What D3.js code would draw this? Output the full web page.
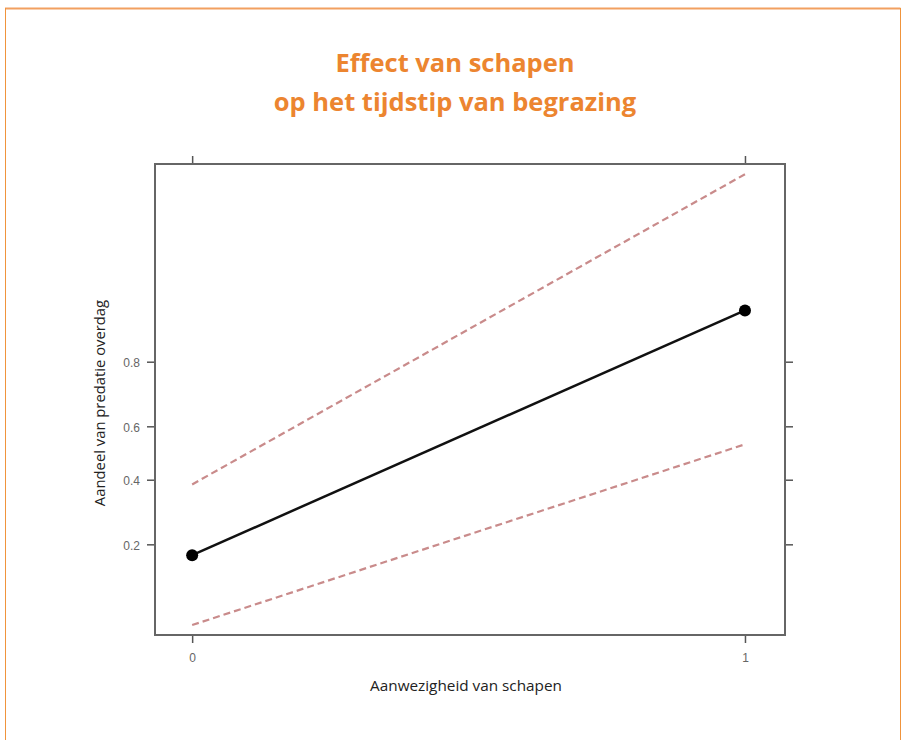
<!DOCTYPE html>
<html><head><meta charset="utf-8">
<script src="https://cdn.jsdelivr.net/npm/d3@7"></script>
<style>body{margin:0;background:#fff}svg{display:block}</style>
</head><body>
<svg id="c" width="907" height="740"></svg>
<script>
const titleLines = ["Effect van schapen", "op het tijdstip van begrazing"];
const xCategories = [0, 1];
const xTickLabels = ["0", "1"];
const fitValues = [0.175, 0.897];
const upperValues = [0.383, 0.9857];
const lowerValues = [0.0684, 0.533];
const yTickValues = [0.2, 0.4, 0.6, 0.8];
const yTickLabels = ["0.2", "0.4", "0.6", "0.8"];
const xLabel = "Aanwezigheid van schapen";
const yLabel = "Aandeel van predatie overdag";

const svg = d3.select("#c");
const logit = p => Math.log(p / (1 - p));

// frame
svg.append("line").attr("x1",5).attr("x2",900.5).attr("y1",8.5).attr("y2",8.5).attr("stroke","#F2A060").attr("stroke-width",2);
svg.append("line").attr("x1",5.5).attr("x2",5.5).attr("y1",8).attr("y2",740).attr("stroke","#F0943C").attr("stroke-width",1);
svg.append("line").attr("x1",900.5).attr("x2",900.5).attr("y1",8).attr("y2",740).attr("stroke","#F0943C").attr("stroke-width",1);

// title
svg.append("g").selectAll("text").data(titleLines).join("text")
  .attr("x",455).attr("y",(d,i)=>72+i*39).attr("text-anchor","middle")
  .attr("font-family","Open Sans, sans-serif").attr("font-weight","bold").attr("font-size",25.5)
  .attr("fill","#EC8530").text(d=>d);

const L=155, R=785, T=164, B=635;
const x = d3.scaleLinear().domain([-0.0672, 1.0724]).range([L, R]);
const y = d3.scaleLinear().domain([-2.763, 4.388]).range([B, T]);

const axisColor = "#555";
const g = svg.append("g");

const yAxisL = d3.axisLeft(y).tickValues(yTickValues.map(logit)).tickFormat((d,i)=>yTickLabels[i]).tickSize(8).tickSizeOuter(0);
const gyl = g.append("g").attr("transform",`translate(${L},0)`).call(yAxisL);
const yAxisR = d3.axisRight(y).tickValues(yTickValues.map(logit)).tickFormat("").tickSize(8).tickSizeOuter(0);
const gyr = g.append("g").attr("transform",`translate(${R},0)`).call(yAxisR);
const xAxisB = d3.axisBottom(x).tickValues(xCategories).tickFormat((d,i)=>xTickLabels[i]).tickSize(8).tickSizeOuter(0).tickPadding(10);
const gxb = g.append("g").attr("transform",`translate(0,${B})`).call(xAxisB);
const xAxisT = d3.axisTop(x).tickValues(xCategories).tickFormat("").tickSize(8).tickSizeOuter(0);
const gxt = g.append("g").attr("transform",`translate(0,${T})`).call(xAxisT);
[gyl,gyr,gxb,gxt].forEach(a=>{
  a.select(".domain").remove();
  a.selectAll(".tick line").attr("stroke",axisColor).attr("stroke-width",1.5);
  a.selectAll(".tick text").attr("fill","#666").attr("font-family","Liberation Sans, Arial, sans-serif").attr("font-size",12);
});
gyl.selectAll(".tick text").attr("dy","0.4em").attr("x",-15);

g.append("rect").attr("x",L).attr("y",T).attr("width",R-L).attr("height",B-T)
  .attr("fill","none").attr("stroke","#666").attr("stroke-width",2);

const lineGen = d3.line().x((d,i)=>x(xCategories[i])).y(d=>y(logit(d)));
[upperValues, lowerValues].forEach(v=>{
  g.append("path").attr("d",lineGen(v)).attr("fill","none")
    .attr("stroke","#C98B8B").attr("stroke-width",2.2).attr("stroke-dasharray","7,4");
});
g.append("path").attr("d",lineGen(fitValues)).attr("fill","none").attr("stroke","#111").attr("stroke-width",2.5);
g.selectAll("circle.p").data(fitValues).join("circle").attr("class","p")
  .attr("cx",(d,i)=>x(xCategories[i])).attr("cy",d=>y(logit(d))).attr("r",6).attr("fill","#000");

svg.append("text").attr("x",466).attr("y",691).attr("text-anchor","middle")
  .attr("font-family","Open Sans, sans-serif").attr("font-size",15.3).attr("fill","#222").text(xLabel);
svg.append("text").attr("transform","translate(105,403) rotate(-90)").attr("text-anchor","middle")
  .attr("font-family","Open Sans, sans-serif").attr("font-size",14.8).attr("fill","#222").text(yLabel);
</script>
</body></html>
